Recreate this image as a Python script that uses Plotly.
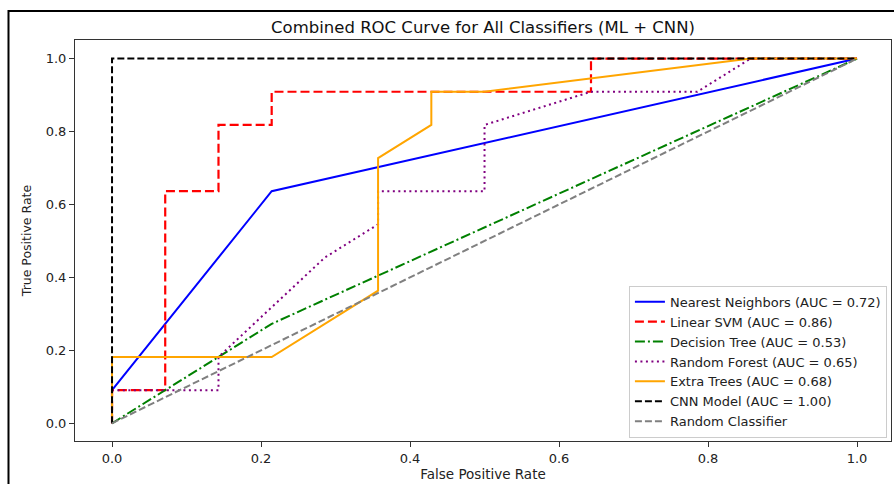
import plotly.graph_objects as go

# ---- data ----
nn_fpr = [0.0, 0.0, 0.2143, 1.0]
nn_tpr = [0.0, 0.0909, 0.6364, 1.0]

svm_fpr = [0.0, 0.0, 0.0714, 0.0714, 0.1429, 0.1429, 0.2143, 0.2143, 0.6429, 0.6429, 1.0]
svm_tpr = [0.0, 0.0909, 0.0909, 0.6364, 0.6364, 0.8182, 0.8182, 0.9091, 0.9091, 1.0, 1.0]

dt_fpr = [0.0, 0.0714, 0.2143, 1.0]
dt_tpr = [0.0, 0.0909, 0.2727, 1.0]

rf_fpr = [0.0, 0.0, 0.1429, 0.1429, 0.2857, 0.3571, 0.3571, 0.5, 0.5, 0.6429, 0.7857, 0.8571, 1.0]
rf_tpr = [0.0, 0.0909, 0.0909, 0.1818, 0.4545, 0.5455, 0.6364, 0.6364, 0.8182, 0.9091, 0.9091, 1.0, 1.0]

et_fpr = [0.0, 0.0, 0.2143, 0.3571, 0.3571, 0.4286, 0.4286, 0.5, 0.8571, 1.0]
et_tpr = [0.0, 0.1818, 0.1818, 0.3636, 0.7273, 0.8182, 0.9091, 0.9091, 1.0, 1.0]

cnn_fpr = [0.0, 0.0, 1.0]
cnn_tpr = [0.0, 1.0, 1.0]

rand_fpr = [0.0, 1.0]
rand_tpr = [0.0, 1.0]

names = [
    "Nearest Neighbors (AUC = 0.72)",
    "Linear SVM (AUC = 0.86)",
    "Decision Tree (AUC = 0.53)",
    "Random Forest (AUC = 0.65)",
    "Extra Trees (AUC = 0.68)",
    "CNN Model (AUC = 1.00)",
    "Random Classifier",
]
tick_vals = [0.0, 0.2, 0.4, 0.6, 0.8, 1.0]
tick_text = ["0.0", "0.2", "0.4", "0.6", "0.8", "1.0"]

series = [
    (nn_fpr, nn_tpr, "blue", "solid", 2),
    (svm_fpr, svm_tpr, "red", "9px,4px", 2.2),
    (dt_fpr, dt_tpr, "green", "10px,3px,2px,3px", 2),
    (rf_fpr, rf_tpr, "purple", "2px,3.5px", 2),
    (et_fpr, et_tpr, "orange", "solid", 2),
    (cnn_fpr, cnn_tpr, "black", "7px,3px", 2),
    (rand_fpr, rand_tpr, "gray", "7px,3px", 2),
]

fig = go.Figure()
for (x, y, c, d, w), n in zip(series, names):
    fig.add_trace(go.Scatter(x=x, y=y, mode="lines", name=n,
                             line=dict(color=c, dash=d, width=w)))

FONT = "DejaVu Sans"
axis_common = dict(
    showgrid=False, zeroline=False, showline=True, mirror=True,
    linecolor="#333", linewidth=1, ticks="outside", ticklen=5,
    tickcolor="#333", tickwidth=1, tickfont=dict(size=13, color="#222", family=FONT),
    tickvals=tick_vals, ticktext=tick_text,
)

fig.update_layout(
    width=894, height=484,
    margin=dict(l=75, r=3, t=40, b=43),
    paper_bgcolor="white", plot_bgcolor="white",
    font=dict(family=FONT, color="#222"),
    title=dict(text="Combined ROC Curve for All Classifiers (ML + CNN)",
               x=0.5, xref="paper", xanchor="center",
               y=1 - 27 / 484, yref="container", yanchor="middle",
               font=dict(size=16.5, color="#111", family=FONT)),
    xaxis=dict(range=[-0.0497, 1.0456],
               title=dict(text="False Positive Rate", standoff=4,
                          font=dict(size=13.5, color="#222", family=FONT)),
               **axis_common),
    yaxis=dict(range=[-0.0486, 1.051],
               title=dict(text="True Positive Rate", standoff=11,
                          font=dict(size=12.5, color="#222", family=FONT)),
               **axis_common),
    legend=dict(x=0.995, xanchor="right", y=0.008, yanchor="bottom",
                bgcolor="rgba(255,255,255,0.85)", bordercolor="#ccc",
                borderwidth=1, entrywidth=245, entrywidthmode="pixels",
                font=dict(size=13, color="#222", family=FONT)),
    shapes=[dict(type="rect", xref="paper", yref="paper",
                 x0=-0.0815, y0=-0.3, x1=1.2, y1=1.0723,
                 line=dict(color="black", width=2), fillcolor="rgba(0,0,0,0)",
                 layer="above")],
)

fig.write_html("out.html")
